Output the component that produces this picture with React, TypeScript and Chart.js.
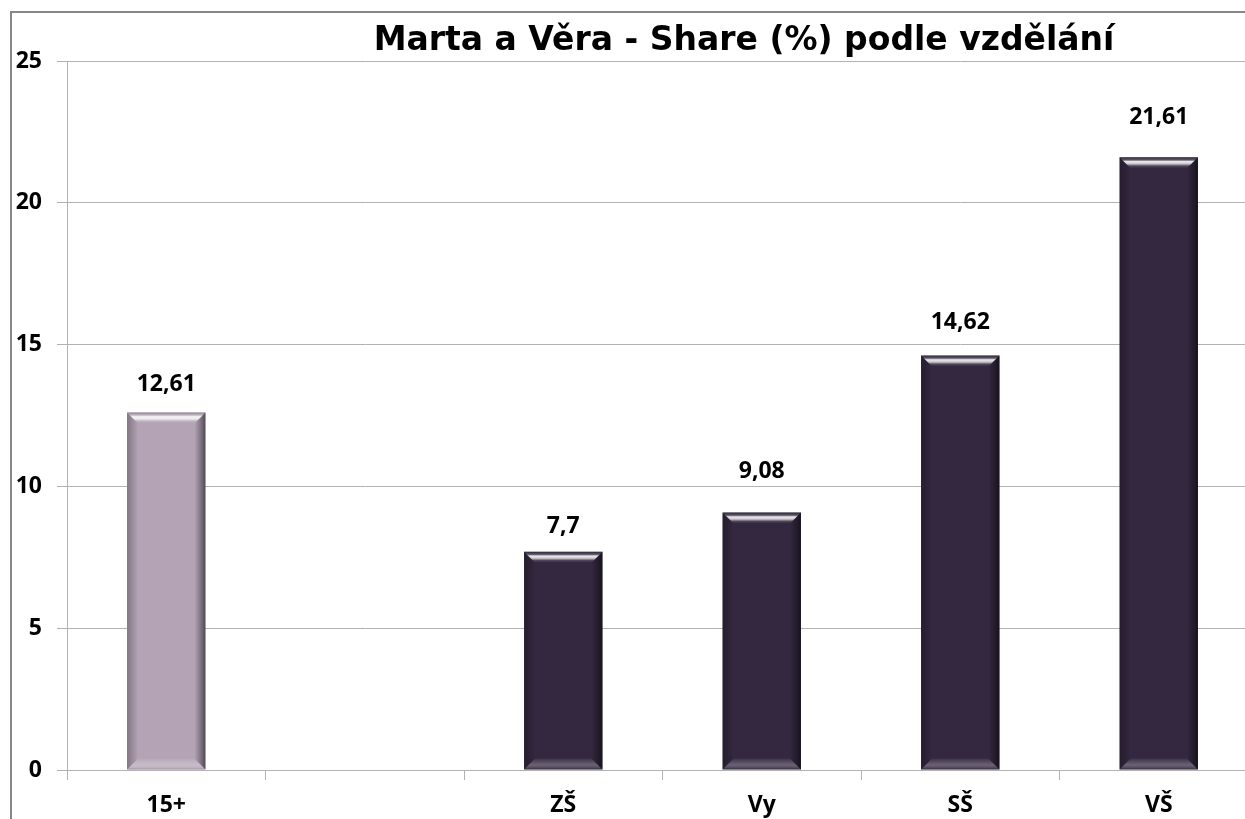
import React, { useEffect, useRef } from "react";
import { Chart, registerables } from "chart.js";

Chart.register(...registerables);

const TITLE = "Marta a Věra - Share (%) podle vzdělání";
const categories = ["15+", "", "ZŠ", "Vy", "SŠ", "VŠ"];
const shareValues: (number | null)[] = [12.61, null, 7.7, 9.08, 14.62, 21.61];
const yTickValues = [0, 5, 10, 15, 20, 25];
const barColors = ["#b3a3b5", "#b3a3b5", "#33283f", "#33283f", "#33283f", "#33283f"];
// distance (px) of each value label centre above the bar top, as placed in the original
const labelOffsets = [28, 0, 25, 41, 33, 40];

const CANVAS_W = 1300;
const CANVAS_H = 850;
const GRID = "#b2b2b2";
const LABEL_FONT = { family: "'Open Sans'", weight: "700", size: 23 };

const framePlugin = {
  id: "frameAndTitle",
  beforeDraw(chart: any) {
    const ctx = chart.ctx;
    ctx.save();
    ctx.fillStyle = "#ffffff";
    ctx.fillRect(0, 0, chart.width, chart.height);
    ctx.strokeStyle = "#878787";
    ctx.lineWidth = 2;
    ctx.strokeRect(11, 12, chart.width + 100, chart.height + 100);
    ctx.restore();
  },
  afterDraw(chart: any) {
    const ctx = chart.ctx;
    ctx.save();
    ctx.font = "bold 33px 'DejaVu Sans'";
    ctx.fillStyle = "#000000";
    ctx.textAlign = "center";
    ctx.textBaseline = "alphabetic";
    ctx.fillText(TITLE, 744, 50);
    ctx.restore();
  },
};

const bevelPlugin = {
  id: "bevel",
  afterDatasetsDraw(chart: any) {
    const ctx = chart.ctx;
    const meta = chart.getDatasetMeta(0);
    meta.data.forEach((el: any, i: number) => {
      if (shareValues[i] == null) return;
      const p = el.getProps(["x", "y", "base", "width"], true);
      const L = p.x - p.width / 2;
      const R = p.x + p.width / 2;
      const T = p.y;
      const B = p.base;
      const b = 11;
      ctx.save();
      // left bevel
      let g = ctx.createLinearGradient(L, 0, L + b, 0);
      g.addColorStop(0, "rgba(0,0,0,0.28)");
      g.addColorStop(1, "rgba(0,0,0,0)");
      ctx.fillStyle = g;
      ctx.beginPath();
      ctx.moveTo(L, T);
      ctx.lineTo(L + b, T + b);
      ctx.lineTo(L + b, B - b);
      ctx.lineTo(L, B);
      ctx.closePath();
      ctx.fill();
      // right bevel
      g = ctx.createLinearGradient(R - b, 0, R, 0);
      g.addColorStop(0, "rgba(0,0,0,0)");
      g.addColorStop(0.5, "rgba(0,0,0,0.25)");
      g.addColorStop(1, "rgba(0,0,0,0.55)");
      ctx.fillStyle = g;
      ctx.beginPath();
      ctx.moveTo(R, T);
      ctx.lineTo(R - b, T + b);
      ctx.lineTo(R - b, B - b);
      ctx.lineTo(R, B);
      ctx.closePath();
      ctx.fill();
      // top bevel (highlight)
      g = ctx.createLinearGradient(0, T, 0, T + b);
      g.addColorStop(0, "rgba(0,0,0,0.3)");
      g.addColorStop(0.25, "rgba(255,255,255,0.2)");
      g.addColorStop(0.4, "rgba(255,255,255,0.9)");
      g.addColorStop(0.6, "rgba(255,255,255,0.75)");
      g.addColorStop(0.8, "rgba(255,255,255,0.15)");
      g.addColorStop(1, "rgba(255,255,255,0)");
      ctx.fillStyle = g;
      ctx.beginPath();
      ctx.moveTo(L, T);
      ctx.lineTo(R, T);
      ctx.lineTo(R - b, T + b);
      ctx.lineTo(L + b, T + b);
      ctx.closePath();
      ctx.fill();
      // bottom bevel
      g = ctx.createLinearGradient(0, B - b, 0, B);
      g.addColorStop(0, "rgba(255,255,255,0.05)");
      g.addColorStop(0.6, "rgba(255,255,255,0.28)");
      g.addColorStop(0.85, "rgba(255,255,255,0.15)");
      g.addColorStop(1, "rgba(0,0,0,0.2)");
      ctx.fillStyle = g;
      ctx.beginPath();
      ctx.moveTo(L, B);
      ctx.lineTo(R, B);
      ctx.lineTo(R - b, B - b);
      ctx.lineTo(L + b, B - b);
      ctx.closePath();
      ctx.fill();
      ctx.restore();
    });
  },
};

const valueLabelPlugin = {
  id: "valueLabels",
  afterDatasetsDraw(chart: any) {
    const ctx = chart.ctx;
    const meta = chart.getDatasetMeta(0);
    ctx.save();
    ctx.font = `${LABEL_FONT.weight} ${LABEL_FONT.size}px ${LABEL_FONT.family}`;
    ctx.fillStyle = "#000000";
    ctx.textAlign = "center";
    ctx.textBaseline = "middle";
    meta.data.forEach((el: any, i: number) => {
      const v = shareValues[i];
      if (v == null) return;
      const p = el.getProps(["x", "y"], true);
      ctx.fillText(String(v).replace(".", ","), p.x, p.y - labelOffsets[i]);
    });
    ctx.restore();
  },
};

export default function App() {
  const ref = useRef<HTMLCanvasElement | null>(null);

  useEffect(() => {
    if (!ref.current) return;
    const chart = new Chart(ref.current, {
      type: "bar",
      data: {
        labels: categories,
        datasets: [
          {
            data: shareValues,
            backgroundColor: barColors,
            borderWidth: 0,
            categoryPercentage: 1,
            barPercentage: 0.395,
          },
        ],
      },
      options: {
        responsive: false,
        animation: false,
        devicePixelRatio: 1,
        layout: { padding: { left: 0, top: 61, right: CANVAS_W - 1258, bottom: 20 } },
        plugins: {
          legend: { display: false },
          title: { display: false },
          tooltip: { enabled: false },
        },
        scales: {
          x: {
            grid: {
              offset: true,
              drawOnChartArea: false,
              drawTicks: true,
              tickLength: 10,
              color: GRID,
            },
            border: { color: GRID },
            ticks: {
              color: "#000000",
              font: LABEL_FONT,
              padding: 12,
              maxRotation: 0,
              autoSkip: false,
            },
            afterFit(scale: any) {
              scale.height = 60;
            },
          },
          y: {
            min: 0,
            max: 25,
            grid: { color: GRID, tickLength: 10, drawTicks: true },
            border: { color: GRID },
            ticks: {
              color: "#000000",
              font: LABEL_FONT,
              padding: 15,
            },
            afterBuildTicks(scale: any) {
              scale.ticks = yTickValues.map((v) => ({ value: v }));
            },
            afterFit(scale: any) {
              scale.width = 67;
            },
          },
        },
      },
      plugins: [framePlugin, bevelPlugin, valueLabelPlugin],
    } as any);
    return () => chart.destroy();
  }, []);

  return (
    <div
      style={{
        position: "fixed",
        left: 0,
        top: 0,
        width: 1245,
        height: 819,
        overflow: "hidden",
        background: "#ffffff",
      }}
    >
      <canvas
        ref={ref}
        width={CANVAS_W}
        height={CANVAS_H}
        style={{ display: "block", width: CANVAS_W, height: CANVAS_H }}
      />
    </div>
  );
}
